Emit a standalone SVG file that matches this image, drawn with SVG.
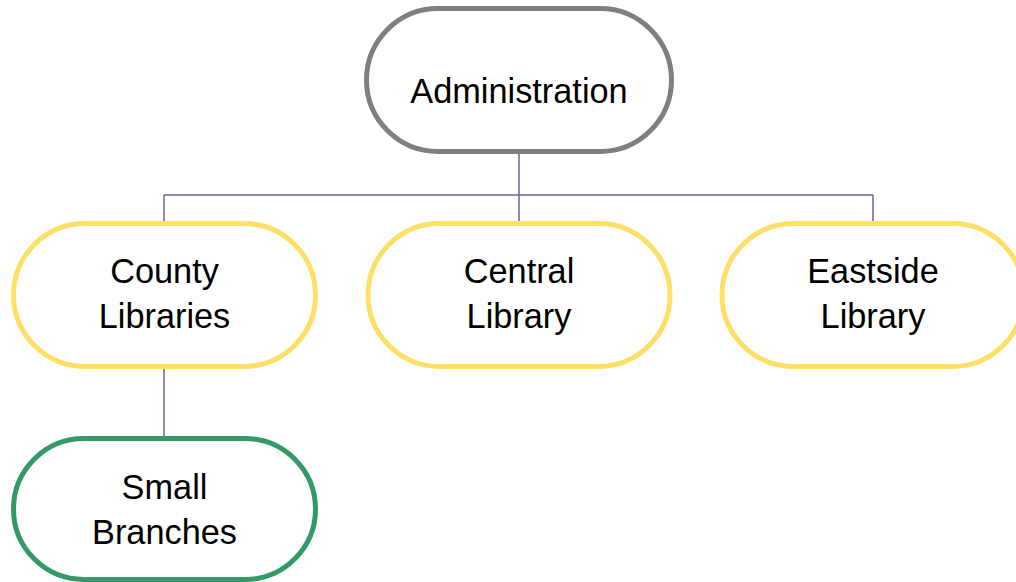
<svg xmlns="http://www.w3.org/2000/svg" width="1016" height="582" viewBox="0 0 1016 582">
<style>
.node{fill:#ffffff;stroke-width:5}
.admin{stroke:#7f7f7f}
.lib{stroke:#ffe066}
.small{stroke:#339966}
.lbl{font-family:"Liberation Sans",Arial,sans-serif;font-size:34.3px;fill:#000000;text-anchor:middle}
.conn{fill:none;stroke:#6b66a3;stroke-width:1.5}
</style>
<rect width="1016" height="582" fill="#ffffff"/>
<g id="connectors">
<path class="conn" d="M519 153V195M164 195H873M164 195V221M519 195V221M873 195V221M164 369V436"/>
</g>
<g id="administration">
<rect class="node admin" x="366.5" y="8.5" width="305" height="143" rx="71.5"/>
<text class="lbl" x="519" y="103">Administration</text>
</g>
<g id="county-libraries">
<rect class="node lib" x="13.5" y="223.5" width="302" height="143" rx="71.5"/>
<text class="lbl" x="164.5" y="283">County</text>
<text class="lbl" x="164.5" y="328">Libraries</text>
</g>
<g id="central-library">
<rect class="node lib" x="368" y="223.5" width="302" height="143" rx="71.5"/>
<text class="lbl" x="519" y="283">Central</text>
<text class="lbl" x="519" y="328">Library</text>
</g>
<g id="eastside-library">
<rect class="node lib" x="722" y="223.5" width="302" height="143" rx="71.5"/>
<text class="lbl" x="873" y="283">Eastside</text>
<text class="lbl" x="873" y="328">Library</text>
</g>
<g id="small-branches">
<rect class="node small" x="13.5" y="438.5" width="302" height="141" rx="70.5"/>
<text class="lbl" x="164.5" y="499">Small</text>
<text class="lbl" x="164.5" y="544">Branches</text>
</g>
</svg>
